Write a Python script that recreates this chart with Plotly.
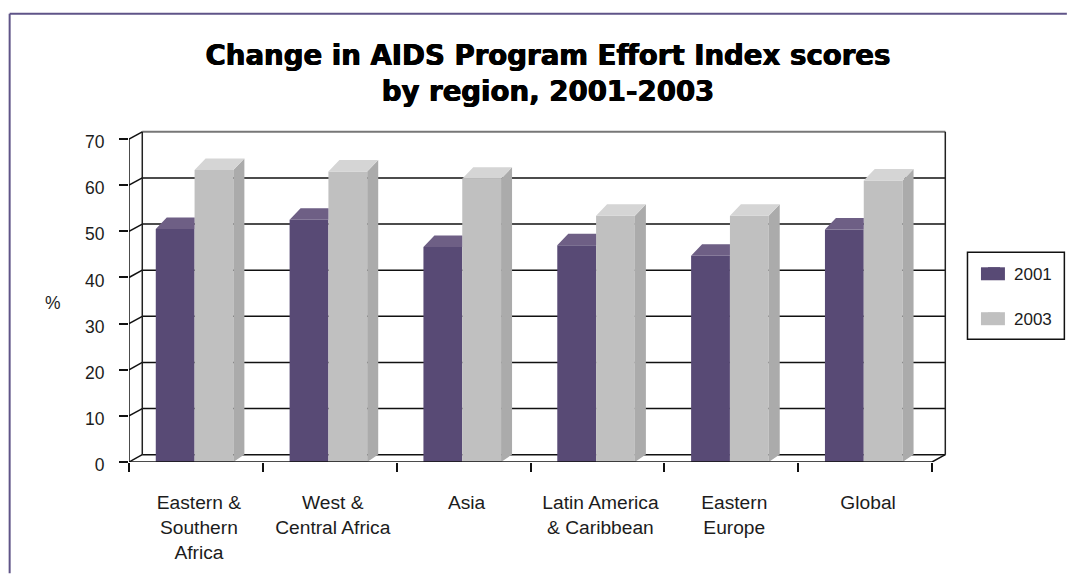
import plotly.graph_objects as go

categories = ["Eastern &<br>Southern<br>Africa", "West &<br>Central Africa", "Asia",
              "Latin America<br>& Caribbean", "Eastern<br>Europe", "Global"]
values_2001 = [50.5, 52.5, 46.6, 47.0, 44.7, 50.4]
values_2003 = [63.3, 63.0, 61.4, 53.4, 53.4, 61.0]
y_ticks = [0, 10, 20, 30, 40, 50, 60, 70]

W, H = 1068, 574
PLOT_L, PLOT_R, PLOT_T, PLOT_B = 129, 950, 128, 462.5
PX_X = 134.0   # pixels per category
PX_Y = 4.62    # pixels per percent
ux = lambda p: p / PX_X
uy = lambda p: p / PX_Y
paper_x = lambda p: (p - PLOT_L) / (PLOT_R - PLOT_L)
paper_y = lambda p: (PLOT_B - p) / (PLOT_B - PLOT_T)

WALL_DX, WALL_DY = ux(13.3), uy(7.3)
BAR_DX, BAR_TOP_DY, BAR_FOOT_DY = ux(11), uy(11.5), uy(7.5)
BAR_W, GROUP_L = 0.29, 0.2
N = len(categories)
xs = [i + 0.5 for i in range(N)]
PURPLE, PURPLE_TOP = "#584A75", "#6E5F85"
GRAY, GRAY_TOP, GRAY_SIDE = "#C0C0C0", "#D5D5D5", "#ABABAB"
TEXT = "#1c1c1c"
FONT = "Liberation Sans"


def poly(groups):
    px, py = [], []
    for g in groups:
        for a, b in g + [g[0]]:
            px.append(a); py.append(b)
        px.append(None); py.append(None)
    return px, py


def face(groups, color):
    px, py = poly(groups)
    return go.Scatter(x=px, y=py, mode="lines", fill="toself", fillcolor=color,
                      line=dict(width=0, color=color), hoverinfo="skip",
                      showlegend=False, cliponaxis=False)


fig = go.Figure()
fig.add_bar(x=xs, y=values_2001, name="2001", width=BAR_W, offset=GROUP_L - 0.5,
            marker=dict(color=PURPLE, line_width=0), legendgroup="a")
fig.add_bar(x=xs, y=values_2003, name="2003", width=BAR_W, offset=GROUP_L - 0.5 + BAR_W,
            marker=dict(color=GRAY, line_width=0), legendgroup="b")

# depth faces, derived from the values
tops_a, tops_b, sides_b = [], [], []
for i, (a, b) in enumerate(zip(values_2001, values_2003)):
    x0 = i + GROUP_L
    x1 = x0 + BAR_W
    x2 = x1 + BAR_W
    tops_a.append([(x0, a), (x0 + BAR_DX, a + BAR_TOP_DY), (x1, a + BAR_TOP_DY), (x1, a)])
    tops_b.append([(x1, b), (x1 + BAR_DX, b + BAR_TOP_DY), (x2 + BAR_DX, b + BAR_TOP_DY), (x2, b)])
    sides_b.append([(x2, 0), (x2 + BAR_DX, BAR_FOOT_DY), (x2 + BAR_DX, b + BAR_TOP_DY), (x2, b)])
fig.add_trace(face(tops_a, PURPLE_TOP))
fig.add_trace(face(sides_b, GRAY_SIDE))
fig.add_trace(face(tops_b, GRAY_TOP))

# front axis frame
ymax = max(y_ticks)
diag_x, diag_y = [], []
for t in y_ticks:
    diag_x += [0, WALL_DX, None]
    diag_y += [t, t + WALL_DY, None]
fig.add_trace(go.Scatter(x=diag_x + [0, 0, None, 0, N, N + WALL_DX],
                         y=diag_y + [0, ymax, None, 0, 0, WALL_DY],
                         mode="lines", line=dict(color="#111111", width=1.5),
                         hoverinfo="skip", showlegend=False, cliponaxis=False))

shapes = []
for t in y_ticks:
    top = t == ymax
    shapes.append(dict(type="line", layer="below", x0=WALL_DX, x1=N + WALL_DX,
                       y0=t + WALL_DY, y1=t + WALL_DY,
                       line=dict(color="#777777" if top else "#111111", width=2 if top else 1.5)))
for x in (WALL_DX, N + WALL_DX):
    shapes.append(dict(type="line", layer="below", x0=x, x1=x, y0=WALL_DY, y1=ymax + WALL_DY,
                       line=dict(color="#222222", width=1.5)))
# page frame
shapes.append(dict(type="line", xref="paper", yref="paper", x0=paper_x(9.5), x1=paper_x(W),
                   y0=paper_y(13.5), y1=paper_y(13.5), line=dict(color="#5F5488", width=2)))
shapes.append(dict(type="line", xref="paper", yref="paper", x0=paper_x(9.5), x1=paper_x(9.5),
                   y0=paper_y(13.5), y1=paper_y(H), line=dict(color="#5F5488", width=2)))
# legend box and wide keys
shapes.append(dict(type="rect", xref="paper", yref="paper", x0=paper_x(968.5), x1=paper_x(1065.5),
                   y0=paper_y(252.5), y1=paper_y(339.5), line=dict(color="#111111", width=1.5)))
for yc, col in ((274, PURPLE), (319, GRAY)):
    shapes.append(dict(type="rect", xref="paper", yref="paper", x0=paper_x(982), x1=paper_x(1006),
                       y0=paper_y(yc - 6.5), y1=paper_y(yc + 6.5), line_width=0, fillcolor=col))

fig.update_layout(
    width=W, height=H, paper_bgcolor="white", plot_bgcolor="white",
    margin=dict(l=PLOT_L, r=W - PLOT_R, t=PLOT_T, b=H - PLOT_B, pad=0),
    font=dict(family=FONT, color=TEXT, size=17),
    title=dict(text="Change in AIDS Program Effort Index scores<br>by region, 2001-2003",
               font=dict(family="DejaVu Sans", size=27.6, color="#000000", weight="bold",
                         shadow="0.5px 0 0 #000, -0.5px 0 0 #000"),
               x=548 / W, xanchor="center", y=1 - 65 / H, yanchor="middle"),
    barmode="overlay", shapes=shapes,
    xaxis=dict(range=[0, (PLOT_R - PLOT_L) / PX_X], showgrid=False, zeroline=False, showline=False,
               tickmode="array", tickvals=xs, ticktext=categories, ticks="", ticklen=0,
               ticklabelstandoff=27, ticklabelshift=3, tickfont=dict(size=19.2, color=TEXT), tickangle=0,
               minor=dict(tickmode="array", tickvals=list(range(N + 1)), ticks="outside",
                          ticklen=9, tickwidth=1.5, tickcolor="#111111", showgrid=False)),
    yaxis=dict(range=[0, (PLOT_B - PLOT_T) / PX_Y], showgrid=False, zeroline=False, showline=False,
               tickmode="array", tickvals=y_ticks, ticks="outside", ticklen=9, tickwidth=1.5,
               tickcolor="#111111", ticklabelstandoff=11, ticklabelshift=3,
               tickfont=dict(size=17.5, color=TEXT)),
    legend=dict(x=paper_x(974), xanchor="left", y=paper_y(256), yanchor="top",
                bgcolor="rgba(0,0,0,0)", borderwidth=0, tracegroupgap=20,
                traceorder="grouped", font=dict(size=17, color=TEXT)),
    annotations=[dict(text="%", xref="paper", yref="paper", x=paper_x(53), y=paper_y(303),
                      xanchor="center", yanchor="middle", showarrow=False,
                      font=dict(size=17.5, color=TEXT))],
)

fig.write_html("out.html", config={"displayModeBar": False},
               post_script="document.body.style.margin='0';document.body.style.overflow='hidden';")
